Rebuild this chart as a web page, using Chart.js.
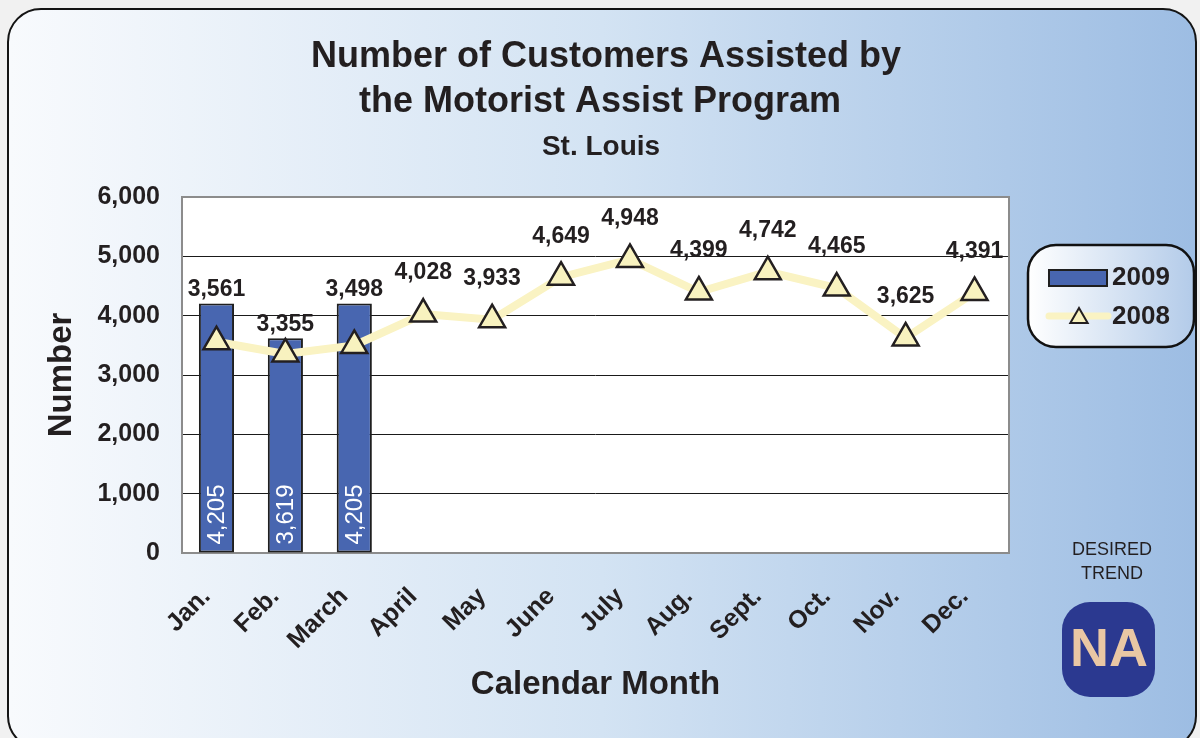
<!DOCTYPE html>
<html>
<head>
<meta charset="utf-8">
<title>Motorist Assist Program - St. Louis</title>
<script src="https://cdn.jsdelivr.net/npm/chart.js@4.4.0/dist/chart.umd.min.js"></script>
<style>
  html, body { margin: 0; padding: 0; background: #f1f1f1; }
  #wrap { position: relative; width: 1200px; height: 738px; overflow: hidden; }
  #panel {
    position: absolute; left: 7px; top: 8px; width: 1190px; height: 742px;
    box-sizing: border-box; border: 2px solid #141414; border-radius: 34px;
    background: linear-gradient(to right, #f8fafd 0%, #d3e3f3 50%, #9dbde3 100%);
  }
  canvas { position: absolute; left: 0; top: 0; }
</style>
</head>
<body>
<div id="wrap">
  <div id="panel"></div>
  <canvas id="chart" width="1200" height="738"></canvas>
</div>
<script>
// chart data
const months = ['Jan.', 'Feb.', 'March', 'April', 'May', 'June', 'July', 'Aug.', 'Sept.', 'Oct.', 'Nov.', 'Dec.'];
const values2009 = [4205, 3619, 4205, null, null, null, null, null, null, null, null, null];
const values2008 = [3561, 3355, 3498, 4028, 3933, 4649, 4948, 4399, 4742, 4465, 3625, 4391];
const yMin = 0, yMax = 6000, yStep = 1000;
const titleLines = ['Number of Customers Assisted by', 'the Motorist Assist Program'];
const subtitle = 'St. Louis';
const seriesNames = ['2009', '2008'];
const trendText = ['DESIRED', 'TREND'];
const trendBadge = 'NA';

const FONT = '"Liberation Sans", Arial, sans-serif';
const INK = '#231f20';
const BAR_BLUE = '#4866b0';
const LINE_YELLOW = '#faf3c3';
const TRI_FILL = '#f8f2bf';

function fmt(n) {
    return n.toLocaleString('en-US');
}

function roundRect(ctx, x, y, w, h, r) {
    ctx.beginPath();
    ctx.moveTo(x + r, y);
    ctx.lineTo(x + w - r, y);
    ctx.arcTo(x + w, y, x + w, y + r, r);
    ctx.lineTo(x + w, y + h - r);
    ctx.arcTo(x + w, y + h, x + w - r, y + h, r);
    ctx.lineTo(x + r, y + h);
    ctx.arcTo(x, y + h, x, y + h - r, r);
    ctx.lineTo(x, y + r);
    ctx.arcTo(x, y, x + r, y, r);
    ctx.closePath();
}

function drawTriangle(ctx, cx, cy, r) {
    ctx.beginPath();
    ctx.moveTo(cx, cy - r);
    ctx.lineTo(cx + r * 0.866, cy + r / 2);
    ctx.lineTo(cx - r * 0.866, cy + r / 2);
    ctx.closePath();
    ctx.fill();
    ctx.stroke();
}

const decorPlugin = {
    id: 'decor',
    beforeDraw(chart) {
        const { ctx, chartArea: a } = chart;
        ctx.save();
        ctx.fillStyle = '#ffffff';
        ctx.fillRect(a.left, a.top, a.right - a.left, a.bottom - a.top);
        ctx.restore();
    },
    beforeDatasetsDraw(chart) {
        // grey plot frame
        const { ctx, chartArea: a } = chart;
        ctx.save();
        ctx.strokeStyle = '#8c8c8c';
        ctx.lineWidth = 2;
        ctx.strokeRect(a.left, a.top, a.right - a.left, a.bottom - a.top);
        ctx.restore();
    },
    afterDatasetsDraw(chart) {
        const { ctx } = chart;
        const barMeta = chart.getDatasetMeta(0);
        const lineMeta = chart.getDatasetMeta(1);
        ctx.save();

        // 2009 values written up inside the bars
        ctx.fillStyle = '#ffffff';
        ctx.font = '24px ' + FONT;
        ctx.textAlign = 'left';
        ctx.textBaseline = 'middle';
        values2009.forEach((v, i) => {
            if (v == null) return;
            const bar = barMeta.data[i];
            ctx.save();
            ctx.translate(bar.x, bar.base - 8);
            ctx.rotate(-Math.PI / 2);
            ctx.fillText(fmt(v), 0, 1);
            ctx.restore();
        });

        // 2008 values above points (or above the bar when there is one)
        ctx.fillStyle = INK;
        ctx.font = 'bold 23px ' + FONT;
        ctx.textAlign = 'center';
        values2008.forEach((v, i) => {
            const pt = lineMeta.data[i];
            let y = pt.y - 41;
            if (values2009[i] != null) y = barMeta.data[i].y - 14;
            ctx.fillText(fmt(v), pt.x, y);
        });
        ctx.restore();
    },
    afterDraw(chart) {
        const { ctx } = chart;
        ctx.save();

        // titles
        ctx.fillStyle = INK;
        ctx.textAlign = 'center';
        ctx.textBaseline = 'middle';
        ctx.font = 'bold 36px ' + FONT;
        ctx.fillText(titleLines[0], 606, 57);
        ctx.fillText(titleLines[1], 600, 102);
        ctx.font = 'bold 28px ' + FONT;
        ctx.fillText(subtitle, 601, 147);

        // legend box
        const lx = 1028, ly = 245, lw = 166, lh = 102;
        const g = ctx.createLinearGradient(lx, 0, lx + lw, 0);
        g.addColorStop(0, '#ffffff');
        g.addColorStop(1, '#b3cbe9');
        roundRect(ctx, lx, ly, lw, lh, 28);
        ctx.fillStyle = g;
        ctx.fill();
        ctx.lineWidth = 2.5;
        ctx.strokeStyle = '#111';
        ctx.stroke();

        ctx.fillStyle = BAR_BLUE;
        ctx.strokeStyle = '#1f1f1f';
        ctx.lineWidth = 2;
        ctx.fillRect(1049, 270, 58, 16);
        ctx.strokeRect(1049, 270, 58, 16);

        ctx.strokeStyle = LINE_YELLOW;
        ctx.lineWidth = 7;
        ctx.lineCap = 'round';
        ctx.beginPath();
        ctx.moveTo(1049, 316);
        ctx.lineTo(1108, 316);
        ctx.stroke();
        ctx.fillStyle = TRI_FILL;
        ctx.strokeStyle = INK;
        ctx.lineWidth = 2;
        drawTriangle(ctx, 1079, 318, 10);

        ctx.fillStyle = INK;
        ctx.font = 'bold 26px ' + FONT;
        ctx.textAlign = 'left';
        ctx.fillText(seriesNames[0], 1112, 278);
        ctx.fillText(seriesNames[1], 1112, 317);

        // desired trend badge
        ctx.textAlign = 'center';
        ctx.font = '18px ' + FONT;
        ctx.fillText(trendText[0], 1112, 550);
        ctx.fillText(trendText[1], 1112, 574);
        roundRect(ctx, 1062, 602, 93, 95, 28);
        ctx.fillStyle = '#2b3990';
        ctx.fill();
        ctx.fillStyle = '#e9c7a4';
        ctx.font = 'bold 54px ' + FONT;
        ctx.fillText(trendBadge, 1109, 651);

        ctx.restore();
    }
};

const ctx = document.getElementById('chart').getContext('2d');
const chart = new Chart(ctx, {
    data: {
        labels: months,
        datasets: [
            {
                type: 'bar',
                label: seriesNames[0],
                data: values2009,
                backgroundColor: BAR_BLUE,
                borderColor: '#1f1f1f',
                borderWidth: 2,
                borderSkipped: false,
                categoryPercentage: 1,
                barPercentage: 0.51,
                order: 2
            },
            {
                type: 'line',
                label: seriesNames[1],
                data: values2008,
                borderColor: LINE_YELLOW,
                borderWidth: 8,
                tension: 0,
                pointStyle: 'triangle',
                pointRadius: 15,
                pointBackgroundColor: TRI_FILL,
                pointBorderColor: INK,
                pointBorderWidth: 2.5,
                order: 1
            }
        ]
    },
    options: {
        responsive: false,
        animation: false,
        layout: { padding: { top: 197, right: 191, left: 0, bottom: 0 } },
        plugins: {
            legend: { display: false },
            tooltip: { enabled: false },
            title: { display: false }
        },
        scales: {
            x: {
                offset: true,
                grid: { display: false },
                border: { display: false },
                ticks: {
                    color: INK,
                    font: { family: FONT, size: 25, weight: 'bold' },
                    minRotation: 45,
                    maxRotation: 45,
                    autoSkip: false,
                    padding: 21,
                    labelOffset: -10
                },
                title: {
                    display: true,
                    text: 'Calendar Month',
                    color: INK,
                    font: { family: FONT, size: 33, weight: 'bold' },
                    padding: { top: 0, bottom: 33 }
                },
                afterFit(scale) { scale.height = 185; }
            },
            y: {
                min: yMin,
                max: yMax,
                grid: { color: '#1a1a1a', lineWidth: 1, drawTicks: false },
                border: { display: false },
                ticks: {
                    stepSize: yStep,
                    color: INK,
                    font: { family: FONT, size: 25, weight: 'bold' },
                    padding: 22,
                    callback: (v) => fmt(v)
                },
                title: {
                    display: true,
                    text: 'Number',
                    color: INK,
                    font: { family: FONT, size: 33, weight: 'bold' },
                    padding: { top: 42, bottom: 0 }
                },
                afterFit(scale) { scale.width = 182; }
            }
        }
    },
    plugins: [decorPlugin]
});
</script>
</body>
</html>
